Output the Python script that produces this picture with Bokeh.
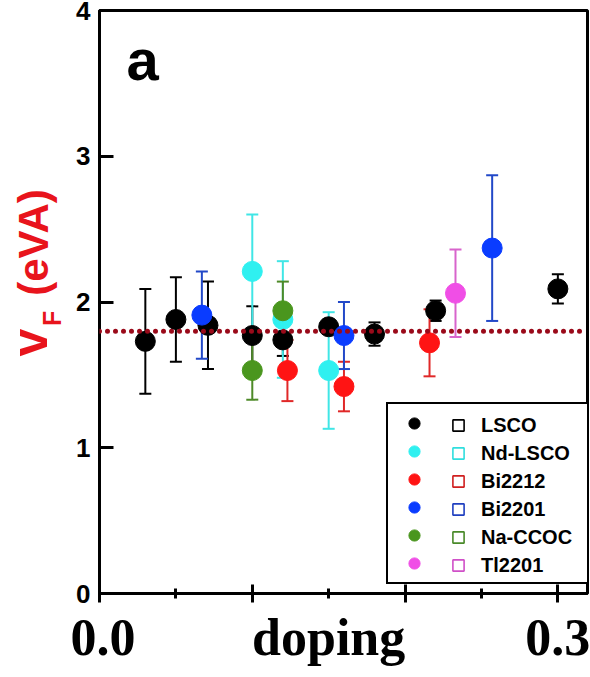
import math
from bokeh.plotting import figure
from bokeh.layouts import row
from bokeh.models import (Range1d, FixedTicker, ColumnDataSource, Whisker, TeeHead,
                          Span, Label, Legend, LegendItem, LinearAxis)
from bokeh.core.properties import value
from bokeh.embed import file_html
from bokeh.resources import INLINE

# ---------------- data ----------------
series_names = ["LSCO", "Nd-LSCO", "Bi2212", "Bi2201", "Na-CCOC", "Tl2201"]

lsco_x = [0.030, 0.050, 0.071, 0.100, 0.120, 0.150, 0.180, 0.220, 0.300]
lsco_y = [1.73, 1.88, 1.84, 1.77, 1.74, 1.83, 1.78, 1.94, 2.09]
lsco_e = [0.36, 0.29, 0.30, 0.20, 0.11, 0.05, 0.08, 0.07, 0.10]

ndlsco_x = [0.100, 0.120, 0.150]
ndlsco_y = [2.21, 1.88, 1.53]
ndlsco_e = [0.39, 0.40, 0.40]

bi2212_x = [0.123, 0.160, 0.216]
bi2212_y = [1.53, 1.42, 1.72]
bi2212_e = [0.21, 0.17, 0.23]

bi2201_x = [0.067, 0.160, 0.257]
bi2201_y = [1.91, 1.77, 2.37]
bi2201_e = [0.30, 0.23, 0.50]

naccoc_x = [0.100, 0.120]
naccoc_y = [1.53, 1.94]
naccoc_e = [0.20, 0.20]

tl2201_x = [0.233]
tl2201_y = [2.06]
tl2201_e = [0.30]

vf_mean = 1.8

x_major_ticks = [0.0, 0.1, 0.2, 0.3]
x_minor_ticks = [0.05, 0.15, 0.25]
x_label_ticks = [0.0, 0.15, 0.3]
x_label_texts = ["0.0", "doping", "0.3"]
y_ticks = [0, 1, 2, 3, 4]

# ---------------- styles ----------------
fill_colors = ["#000000", "#2ff0f0", "#ff1414", "#0a3cff", "#4a961e", "#f04ee6"]
bar_colors = ["#000000", "#40e6e6", "#e02828", "#2248c8", "#4e8a28", "#d864cc"]
square_colors = ["#000000", "#30dede", "#d02020", "#2040c0", "#4a8a2a", "#d050c8"]
RED = "#e8141c"

data = [
    (lsco_x, lsco_y, lsco_e),
    (ndlsco_x, ndlsco_y, ndlsco_e),
    (bi2212_x, bi2212_y, bi2212_e),
    (bi2201_x, bi2201_y, bi2201_e),
    (naccoc_x, naccoc_y, naccoc_e),
    (tl2201_x, tl2201_y, tl2201_e),
]

# ---------------- main plot ----------------
p = figure(width=520, height=677, output_backend="svg", toolbar_location=None,
           x_range=Range1d(0, 0.3194), y_range=Range1d(0, 4.0),
           min_border_left=29, min_border_right=3, min_border_top=10, min_border_bottom=84)
p.xgrid.visible = False
p.ygrid.visible = False
p.outline_line_color = "black"
p.outline_line_width = 3
p.outline_line_alpha = 1.0
p.background_fill_color = "white"
p.border_fill_color = "white"

# x axis: ticks only
xa = p.xaxis[0]
xa.ticker = FixedTicker(ticks=x_major_ticks, minor_ticks=x_minor_ticks)
xa.major_label_overrides = {t: "" for t in x_major_ticks}
xa.major_label_text_font_size = "1px"
xa.major_label_standoff = 0
xa.axis_line_width = 3
xa.major_tick_line_width = 3
xa.minor_tick_line_width = 3
xa.major_tick_in = 9
xa.major_tick_out = 9
xa.minor_tick_in = 5
xa.minor_tick_out = 5

# x axis: labels row ("0.0", "doping", "0.3")
xl = LinearAxis(ticker=FixedTicker(ticks=x_label_ticks, minor_ticks=[]),
                major_label_overrides={t: s for t, s in zip(x_label_ticks, x_label_texts)},
                axis_line_color=None, major_tick_line_color=None, minor_tick_line_color=None,
                major_tick_in=0, major_tick_out=0, major_label_standoff=6,
                major_label_text_font="Liberation Serif", major_label_text_font_style="bold",
                major_label_text_font_size="52px", major_label_text_color="black")
p.add_layout(xl, "below")

# y axis
ya = p.yaxis[0]
ya.ticker = FixedTicker(ticks=y_ticks, minor_ticks=[])
ya.axis_line_width = 3
ya.major_tick_line_width = 3
ya.major_tick_in = 14
ya.major_tick_out = 0
ya.minor_tick_line_color = None
ya.major_label_standoff = 9
ya.major_label_text_font = "Liberation Sans"
ya.major_label_text_font_style = "bold"
ya.major_label_text_font_size = "26px"
ya.major_label_text_color = "black"

circle_renderers = []
square_renderers = []
for name, (xs, ys, es), fc, bc, sc in zip(series_names, data, fill_colors, bar_colors, square_colors):
    src = ColumnDataSource(dict(x=xs, y=ys,
                                upper=[v + e for v, e in zip(ys, es)],
                                lower=[v - e for v, e in zip(ys, es)]))
    w = Whisker(source=src, base="x", upper="upper", lower="lower",
                line_color=bc, line_width=2,
                upper_head=TeeHead(size=12, line_color=bc, line_width=2),
                lower_head=TeeHead(size=12, line_color=bc, line_width=2))
    p.add_layout(w)
    r = p.scatter("x", "y", source=src, marker="circle", size=20,
                  fill_color=fc, line_color=fc, line_width=1)
    circle_renderers.append(r)
    # open-square symbol used only in the legend (no points in this panel)
    s = p.scatter(x=[float("nan")], y=[float("nan")], marker="square", size=11,
                  fill_color=None, line_color=sc, line_width=1.6)
    square_renderers.append(s)

span = Span(location=vf_mean, dimension="width", line_color="#9a0a1a",
            line_width=5, line_dash="0 8", line_cap="round")
p.add_layout(span)

legA = Legend(items=[LegendItem(label=value(" "), renderers=[r]) for r in circle_renderers],
              location=(287, 9), padding=5, spacing=0, margin=0,
              glyph_width=42, glyph_height=28, label_height=28, label_width=149,
              label_standoff=0, border_line_color="black", border_line_width=2,
              border_line_alpha=1.0,
              background_fill_color="white", background_fill_alpha=1.0,
              label_text_font_size="20px")
legB = Legend(items=[LegendItem(label=value(n), renderers=[s]) for n, s in zip(series_names, square_renderers)],
              location=(340, 9), padding=5, spacing=0, margin=0,
              glyph_width=28, glyph_height=28, label_height=28,
              label_standoff=9, border_line_alpha=0, background_fill_alpha=0,
              label_text_font="Liberation Sans", label_text_font_style="bold",
              label_text_font_size="20px", label_text_color="black")
p.add_layout(legA)
p.add_layout(legB)

# panel letter
p.add_layout(Label(x=27, y=534, x_units="screen", y_units="screen", text="a",
                   text_font="Liberation Sans", text_font_style="bold",
                   text_font_size="58px", text_color="black",
                   text_baseline="middle", text_align="left"))

# ---------------- y-axis title strip (shares the y scale) ----------------
ft = figure(width=70, height=677, output_backend="svg", toolbar_location=None,
            x_range=Range1d(0, 70), y_range=p.y_range, min_border=0)
ft.axis.visible = False
ft.grid.visible = False
ft.outline_line_color = None
ft.background_fill_color = "white"
ft.border_fill_color = "white"
title_parts = [("v", 29, 1.722, "50px"), ("F", 51, 1.887, "25px"), ("(eVA)", 33, 2.408, "42px")]
for txt, tx, ty, fs in title_parts:
    ft.text(x=[tx], y=[ty], text=[txt], angle=math.pi / 2,
            text_font=value("Liberation Sans"), text_font_style="bold",
            text_font_size=value(fs), text_color=RED,
            text_align="center", text_baseline="middle")

layout = row(ft, p, spacing=0)
open("out.html", "w").write(file_html(layout, INLINE))
